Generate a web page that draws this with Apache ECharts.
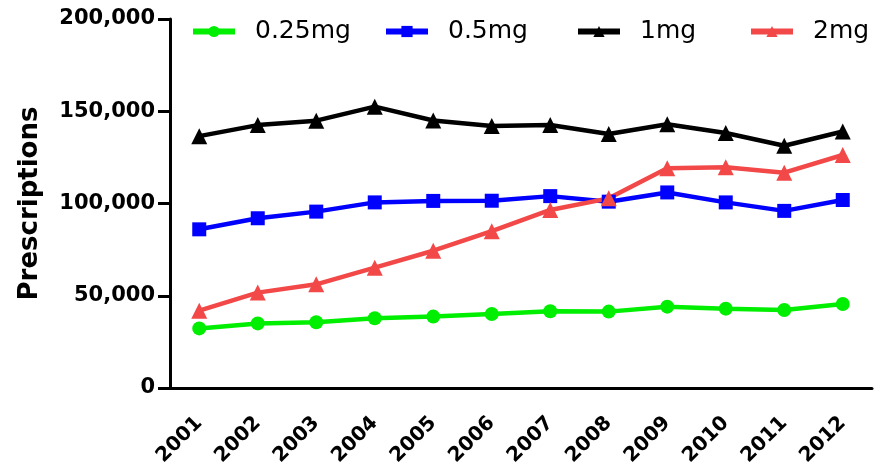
<!DOCTYPE html>
<html>
<head>
<meta charset="utf-8">
<script src="https://cdn.jsdelivr.net/npm/echarts@6/dist/echarts.min.js"></script>
<style>html,body{margin:0;padding:0;background:#fff}#c{width:886px;height:469px}</style>
</head>
<body>
<div id="c"></div>
<script>
const years = ['2001','2002','2003','2004','2005','2006','2007','2008','2009','2010','2011','2012'];
const mg025 = [32300, 35000, 35600, 37800, 38700, 40100, 41600, 41400, 44100, 43000, 42300, 45500];
const mg05 = [86000, 92000, 95600, 100600, 101400, 101500, 104000, 101000, 106000, 100600, 96000, 101900];
const mg1 = [136500, 142500, 144900, 152500, 145000, 142000, 142500, 137700, 143000, 138200, 131300, 139000];
const mg2 = [41900, 51700, 56200, 65200, 74400, 85000, 96500, 102800, 119100, 119600, 116700, 126300];
const yTicks = [0, 50000, 100000, 150000, 200000];

const chart = echarts.init(document.getElementById('c'), null, {renderer: 'canvas'});
const font = '"DejaVu Sans", sans-serif';
function mkSeries(name, data, color, symbol, size) {
  return {
    name, type: 'line', data, symbol, symbolSize: size,
    lineStyle: {color, width: 4.5},
    itemStyle: {color},
    emphasis: {disabled: true}
  };
}
function mkLegend(name, left) {
  return {
    data: [name], left, top: 19, itemWidth: 42, itemHeight: 14, itemGap: 0,
    lineStyle: {width: 6},
    textStyle: {fontSize: 25, color: '#000', fontFamily: font, padding: [0, 0, 0, 15]},
    padding: 0
  };
}
chart.setOption({
  animation: false,
  backgroundColor: '#fff',
  legend: [mkLegend('0.25mg', 190), mkLegend('0.5mg', 383), mkLegend('1mg', 575), mkLegend('2mg', 748)],
  grid: {left: 170, right: 14, top: 19, bottom: 81},
  xAxis: {
    type: 'category', data: years, boundaryGap: true,
    axisLine: {lineStyle: {color: '#000', width: 3}},
    axisTick: {alignWithLabel: true, length: 10, lineStyle: {width: 3, color: '#000'}},
    axisLabel: {rotate: 45, fontSize: 20, fontWeight: 'bold', color: '#000', fontFamily: font, margin: 32}
  },
  yAxis: {
    type: 'value', min: 0, max: 200000, interval: 50000,
    name: 'Prescriptions', nameLocation: 'middle', nameGap: 127,
    nameTextStyle: {fontSize: 26, fontWeight: 'bold', color: '#000', fontFamily: font},
    axisLine: {show: true, lineStyle: {color: '#000', width: 3}},
    axisTick: {show: true, length: 12, lineStyle: {width: 3, color: '#000'}},
    splitLine: {show: false},
    axisLabel: {fontSize: 21, fontWeight: 'bold', color: '#000', fontFamily: font, margin: 15,
      formatter: v => yTicks.includes(v) ? v.toLocaleString('en-US') : ''}
  },
  series: [
    mkSeries('0.25mg', mg025, '#00ee00', 'circle', 14),
    mkSeries('0.5mg', mg05, '#0000ff', 'rect', 14),
    mkSeries('1mg', mg1, '#000000', 'triangle', 16),
    mkSeries('2mg', mg2, '#f24848', 'triangle', 16)
  ]
});
</script>
</body>
</html>
